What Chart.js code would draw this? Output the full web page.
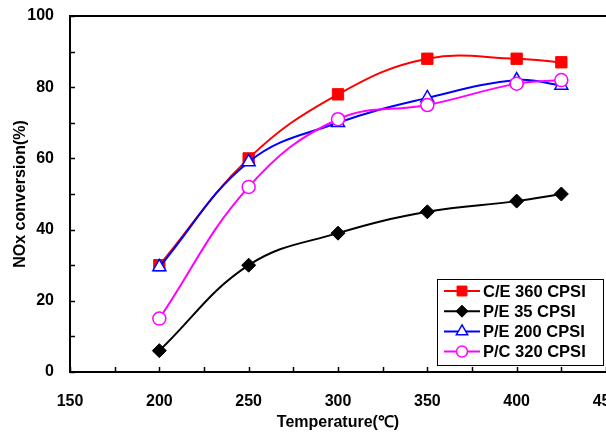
<!DOCTYPE html>
<html>
<head>
<meta charset="utf-8">
<script src="https://cdn.jsdelivr.net/npm/chart.js@4.4.0/dist/chart.umd.min.js"></script>
<style>
    html, body { margin: 0; padding: 0; background: #fff; }
    #wrap { width: 606px; height: 445px; }
</style>
</head>
<body>
<div id="wrap"><canvas id="noxChart" width="606" height="445"></canvas></div>
<script>
// ========== DATA ==========
const temperatures = [200, 250, 300, 350, 400, 425];
const ce360 = [30, 60, 78, 88, 88, 87];
const pe35 = [6, 30, 39, 45, 48, 50];
const pe200 = [29.5, 59, 70, 77, 82, 80.5];
const pc320 = [15, 52, 71, 75, 81, 82];
const seriesLabels = ['C/E 360 CPSI', 'P/E 35 CPSI', 'P/E 200 CPSI', 'P/C 320 CPSI'];
const xTitle = 'Temperature(℃)';
const yTitle = 'NOx conversion(%)';

const FONT = '"Liberation Sans", Arial, sans-serif';

function toPoints(values) {
    return temperatures.map((t, i) => ({ x: t, y: values[i] }));
}

// ========== PLUGINS ==========
// inward tick marks + top border of the plot box
const frameTicks = {
    id: 'frameTicks',
    afterDraw(chart) {
        const ctx = chart.ctx;
        const area = chart.chartArea;
        const xs = chart.scales.x;
        const ys = chart.scales.y;
        ctx.save();
        ctx.strokeStyle = '#000';
        ctx.lineWidth = 1.5;
        ctx.beginPath();
        xs.ticks.forEach(t => {
            const px = Math.round(xs.getPixelForValue(t.value)) + 0.5;
            ctx.moveTo(px, area.bottom);
            ctx.lineTo(px, area.bottom - 5);
        });
        ys.ticks.forEach(t => {
            const py = Math.round(ys.getPixelForValue(t.value)) + 0.5;
            ctx.moveTo(area.left, py);
            ctx.lineTo(area.left + 5, py);
        });
        ctx.stroke();
        ctx.lineWidth = 2;
        ctx.beginPath();
        ctx.moveTo(area.left - 1, area.top);
        ctx.lineTo(area.right + 2, area.top);
        ctx.stroke();
        ctx.restore();
    }
};

// boxed legend inside the plot, bottom right
const boxLegend = {
    id: 'boxLegend',
    afterDraw(chart) {
        const ctx = chart.ctx;
        const area = chart.chartArea;
        const boxW = 166, boxH = 86;
        const left = area.right - boxW - 3;
        const top = area.bottom - boxH - 7;
        ctx.save();
        ctx.fillStyle = '#fff';
        ctx.fillRect(left, top, boxW, boxH);
        ctx.strokeStyle = '#000';
        ctx.lineWidth = 1;
        ctx.strokeRect(left + 0.5, top + 0.5, boxW, boxH);

        chart.data.datasets.forEach((ds, i) => {
            const y = top + 12 + i * 20.2;
            ctx.strokeStyle = ds.borderColor;
            ctx.lineWidth = 2;
            ctx.beginPath();
            ctx.moveTo(left + 7, y);
            ctx.lineTo(left + 43, y);
            ctx.stroke();
            ctx.fillStyle = ds.pointBackgroundColor;
            ctx.strokeStyle = ds.borderColor;
            ctx.lineWidth = ds.pointBorderWidth;
            Chart.helpers.drawPoint(ctx, {
                pointStyle: ds.pointStyle,
                radius: ds.pointRadius - 1,
                borderWidth: ds.pointBorderWidth,
                rotation: 0
            }, left + 25, y);
            ctx.fillStyle = '#000';
            ctx.font = 'bold 16.5px ' + FONT;
            ctx.textBaseline = 'middle';
            ctx.textAlign = 'left';
            ctx.fillText(ds.label, left + 46, y + 1);
        });
        ctx.restore();
    }
};

// ========== CHART ==========
const ctx = document.getElementById('noxChart').getContext('2d');
const noxChart = new Chart(ctx, {
    type: 'line',
    data: {
        datasets: [
            {
                label: seriesLabels[0],
                data: toPoints(ce360),
                borderColor: '#ff0000',
                pointBackgroundColor: '#ff0000',
                pointStyle: 'rect',
                pointRadius: 8,
                pointBorderWidth: 1,
                borderWidth: 2,
                tension: 0.4,
                order: 4
            },
            {
                label: seriesLabels[1],
                data: toPoints(pe35),
                borderColor: '#000000',
                pointBackgroundColor: '#000000',
                pointStyle: 'rectRot',
                pointRadius: 7,
                pointBorderWidth: 1,
                borderWidth: 2,
                tension: 0.4,
                order: 3
            },
            {
                label: seriesLabels[2],
                data: toPoints(pe200),
                borderColor: '#0000ff',
                pointBackgroundColor: '#ffffff',
                pointStyle: 'triangle',
                pointRadius: 7.5,
                pointBorderWidth: 1.5,
                borderWidth: 2,
                tension: 0.4,
                order: 2
            },
            {
                label: seriesLabels[3],
                data: toPoints(pc320),
                borderColor: '#ff00ff',
                pointBackgroundColor: '#ffffff',
                pointStyle: 'circle',
                pointRadius: 6.5,
                pointBorderWidth: 1.5,
                borderWidth: 2,
                tension: 0.4,
                order: 1
            }
        ]
    },
    options: {
        responsive: false,
        animation: false,
        devicePixelRatio: 1,
        layout: { autoPadding: false, padding: { top: 16, left: 0, right: 0, bottom: 0 } },
        plugins: {
            legend: { display: false },
            tooltip: { enabled: false }
        },
        scales: {
            x: {
                type: 'linear',
                min: 150,
                max: 450,
                afterFit(scale) {
                    scale.height = 73;
                    scale.paddingLeft = 0;
                    scale.paddingRight = 0;
                },
                ticks: {
                    stepSize: 25,
                    autoSkip: false,
                    maxRotation: 0,
                    padding: 20,
                    color: '#000',
                    font: { family: FONT, size: 16, weight: 'bold' },
                    callback: function(value) { return value % 50 === 0 ? value : ''; }
                },
                grid: { display: true, drawOnChartArea: false, drawTicks: false },
                border: { display: true, color: '#000', width: 2 },
                title: {
                    display: true,
                    text: xTitle,
                    color: '#000',
                    font: { family: FONT, size: 16, weight: 'bold' },
                    padding: { top: 0, bottom: 13 }
                }
            },
            y: {
                min: 0,
                max: 100,
                afterFit(scale) {
                    scale.width = 70;
                    scale.paddingTop = 0;
                    scale.paddingBottom = 0;
                },
                ticks: {
                    stepSize: 10,
                    autoSkip: false,
                    padding: 16,
                    color: '#000',
                    font: { family: FONT, size: 16, weight: 'bold' },
                    callback: function(value) { return value % 20 === 0 ? value : ''; }
                },
                grid: { display: true, drawOnChartArea: false, drawTicks: false },
                border: { display: true, color: '#000', width: 2 },
                title: {
                    display: true,
                    text: yTitle,
                    color: '#000',
                    font: { family: FONT, size: 16, weight: 'bold' },
                    padding: { top: 11, bottom: 0 }
                }
            }
        }
    },
    plugins: [frameTicks, boxLegend]
});
</script>
</body>
</html>
